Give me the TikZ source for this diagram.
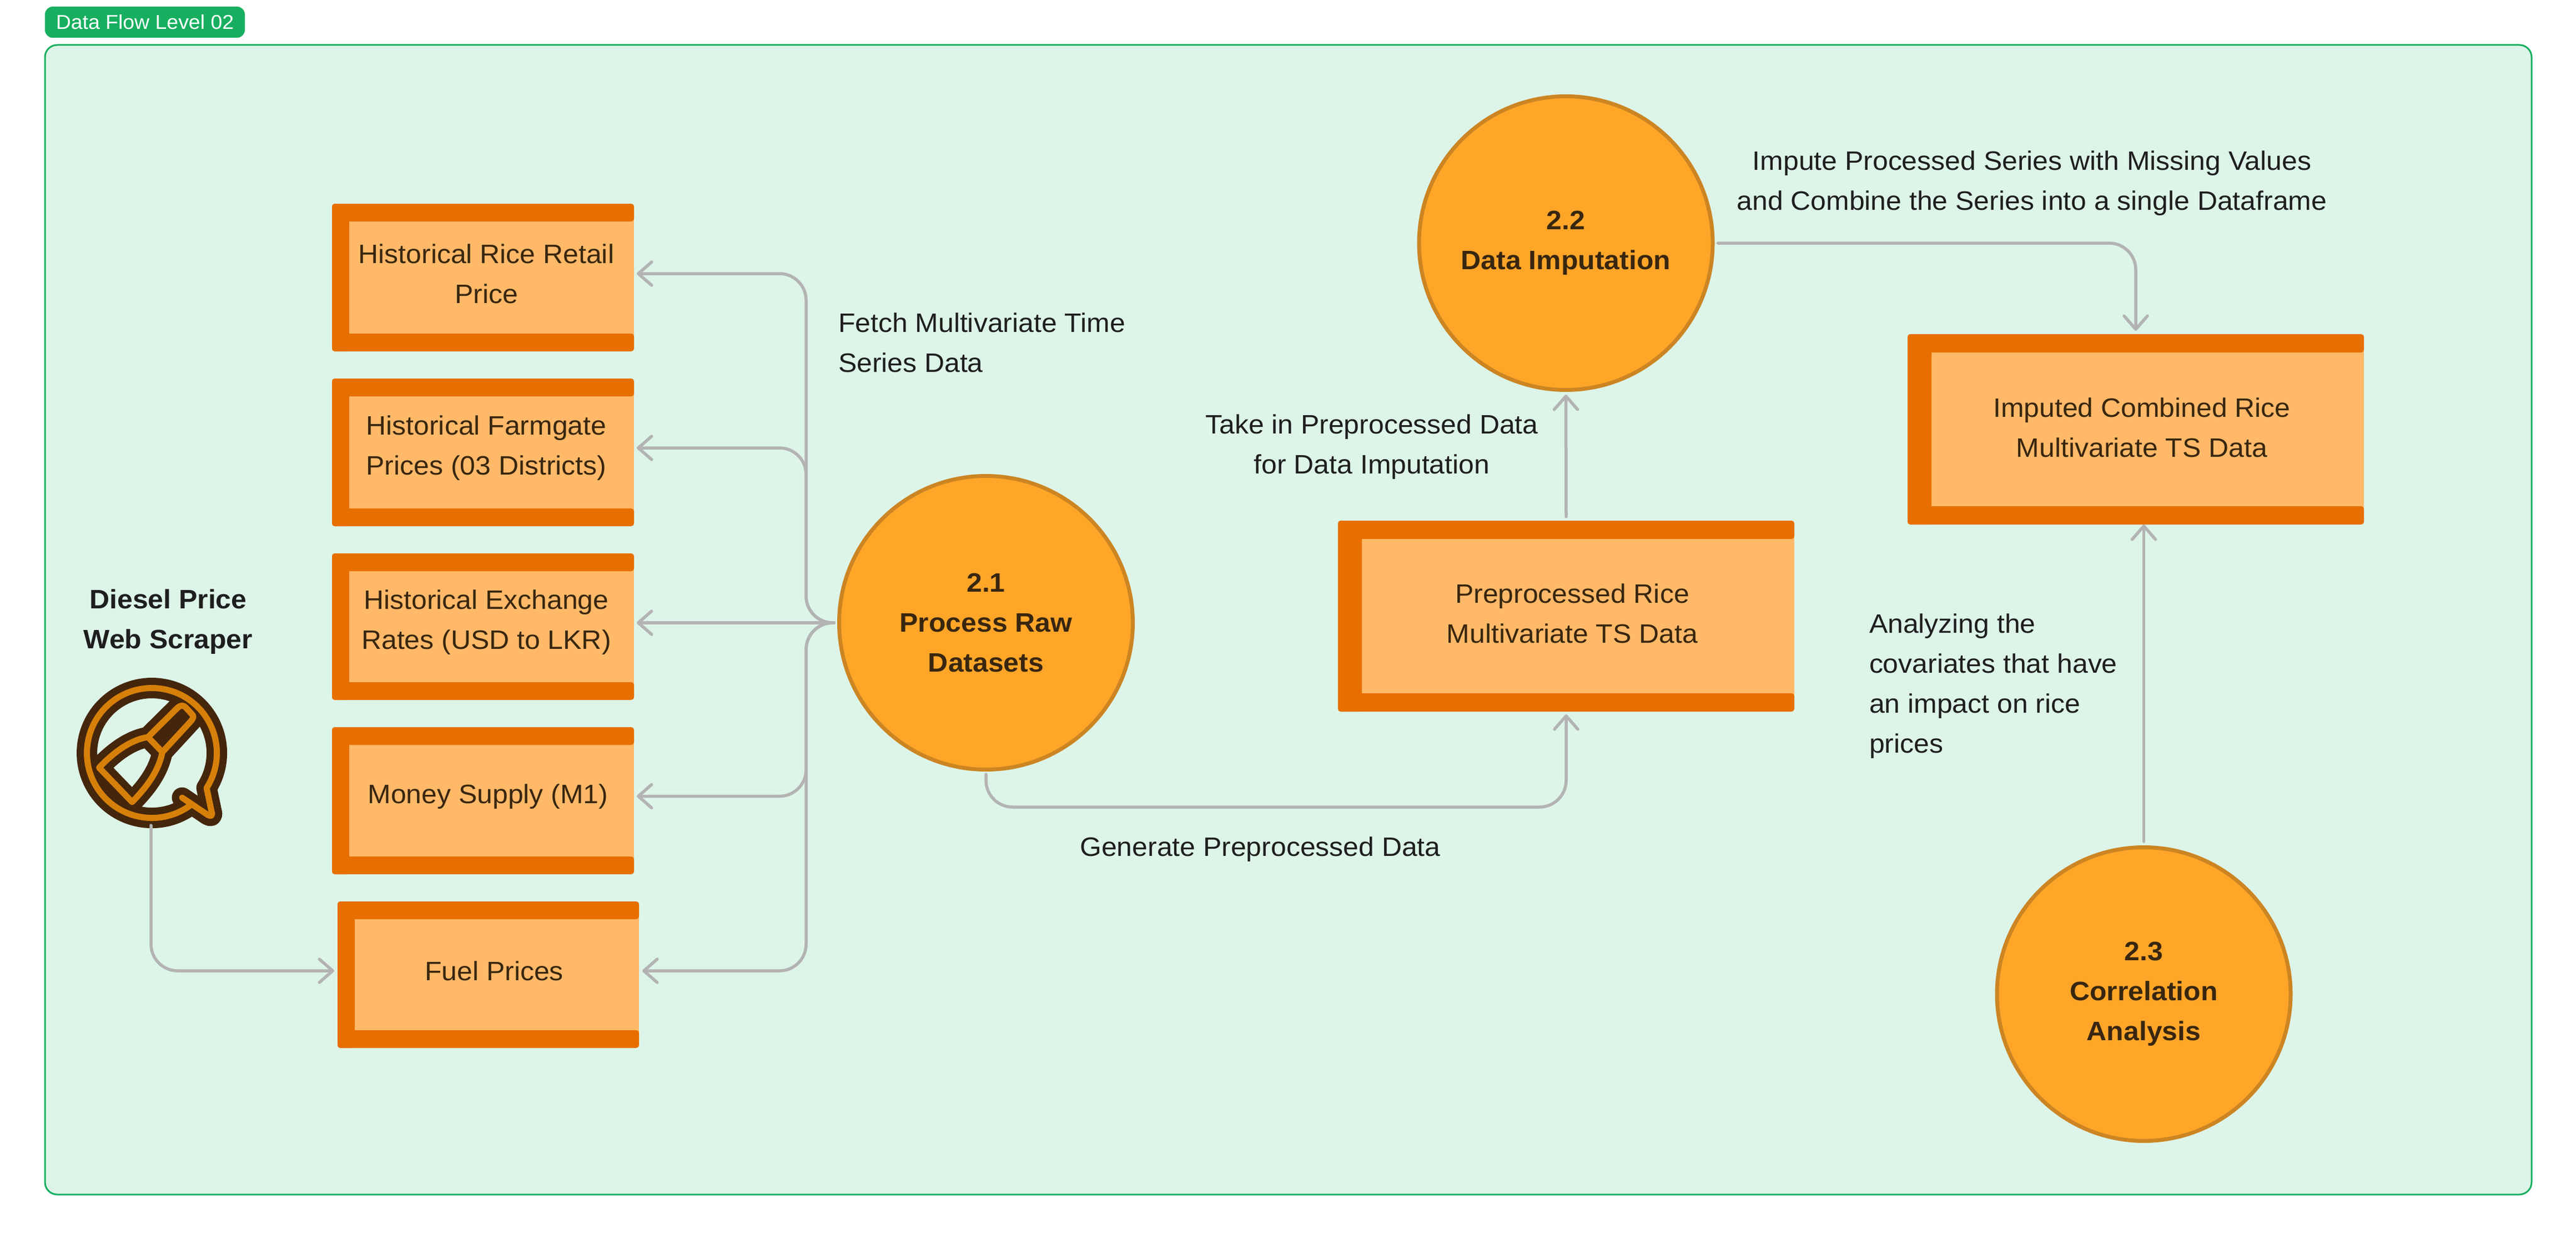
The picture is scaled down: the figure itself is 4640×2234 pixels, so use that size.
\documentclass[tikz,border=0pt]{standalone}
\usepackage{fontspec}
\setmainfont[FakeStretch=1.04]{Liberation Sans}
\usetikzlibrary{arrows.meta,calc}
\definecolor{panelfill}{HTML}{DDF4E8}
\definecolor{panelline}{HTML}{17AF5F}
\definecolor{bardark}{HTML}{E76F00}
\definecolor{boxlight}{HTML}{FFB969}
\definecolor{circfill}{HTML}{FFA629}
\definecolor{circline}{HTML}{CC8522}
\definecolor{boxtextc}{HTML}{38260F}
\definecolor{labeltext}{HTML}{1E1E1E}
\definecolor{flowgrey}{HTML}{B3B3B3}
\definecolor{icondark}{HTML}{44260C}
\definecolor{iconorange}{HTML}{D6800A}
\tikzset{
  x=1pt,y=-1pt,
  txt/.style={font=\fontsize{48pt}{72pt}\selectfont,inner sep=0pt,outer sep=0pt,align=center},
  boxtext/.style={txt,text=boxtextc},
  lbl/.style={txt,text=labeltext},
  lblleft/.style={lbl,align=left},
  shapebox/.style={rectangle,inner sep=0pt,outer sep=0pt},
  proc/.style={circle,draw=circline,fill=circfill,line width=7pt,minimum size=529pt,inner sep=0pt,
    font=\fontsize{48pt}{72pt}\selectfont\bfseries,text=boxtextc,align=center},
  flow/.style={draw=flowgrey,line width=5.5pt,line cap=round,rounded corners=48pt,
    -{Straight Barb[length=24pt,width=42pt,round]}},
  iconline/.style={draw=icondark,double=iconorange,double distance=11pt,line width=13pt,line join=round,line cap=round},
}
\newcommand{\dfbox}[7]{%
  \node[shapebox,minimum width={#4-#2},minimum height={#5-#3}] (#1) at ({(#2+#4)/2},{(#3+#5)/2}) {};
  \fill[boxlight] ([xshift=10pt,yshift=-10pt]#1.north west) rectangle ([yshift=10pt]#1.south east);
  \fill[bardark,rounded corners=5pt] (#1.north west) rectangle ([yshift=-#7 pt]#1.north east);
  \fill[bardark,rounded corners=5pt] (#1.south west) rectangle ([yshift=#7 pt]#1.south east);
  \fill[bardark,rounded corners=5pt] (#1.north west) rectangle ([xshift=#6 pt]#1.south west);
}
\begin{document}
\begin{tikzpicture}
\useasboundingbox (0,0) rectangle (4640,2234);
\fill[white] (0,0) rectangle (4640,2234);
% panel and badge
\draw[fill=panelfill,draw=panelline,line width=3pt,rounded corners=22pt] (81,81) rectangle (4560,2152);
\node[rectangle,fill=panelline,rounded corners=14pt,minimum width=360pt,minimum height=56pt,inner sep=0pt,
  text=white,font=\fontsize{36pt}{44pt}\selectfont] (badge) at (261,40) {Data Flow Level 02};
% boxes
\dfbox{b1}{598}{367}{1142}{633}{31}{32}
\dfbox{b2}{598}{682}{1142}{948}{31}{32}
\dfbox{b3}{598}{997}{1142}{1261}{31}{32}
\dfbox{b4}{598}{1310}{1142}{1575}{31}{32}
\dfbox{b5}{608}{1624}{1151}{1888}{31}{32}
\dfbox{pre}{2410}{938}{3232}{1282}{43}{33}
\dfbox{imp}{3436}{602}{4258}{945}{43}{33}
\node[boxtext] (t1) at (876,493) {Historical Rice Retail\\Price};
\node[boxtext] (t2) at (876,807) {Historical Farmgate\\Prices (03 Districts)};
\node[boxtext] (t3) at (876,1121) {Historical Exchange\\Rates (USD to LKR)};
\node[boxtext] (t4) at (879,1435) {Money Supply (M1)};
\node[boxtext] (t5) at (890,1749) {Fuel Prices};
\node[boxtext] (t6) at (2832,1105) {Preprocessed Rice\\Multivariate TS Data};
\node[boxtext] (t7) at (3858,770) {Imputed Combined Rice\\Multivariate TS Data};
% processes
\node[proc] (p1) at (1776,1122) {2.1\\Process Raw\\Datasets};
\node[proc] (p2) at (2820.5,438) {2.2\\Data Imputation};
\node[proc] (p3) at (3861.5,1791) {2.3\\Correlation\\Analysis};
% scraper
\node[txt,font=\fontsize{48pt}{72pt}\selectfont\bfseries,text=labeltext] (dl) at (303,1120) {Diesel Price\\Web Scraper};
\node[circle,minimum size=272pt,inner sep=0pt,outer sep=0pt] (icon) at (270,1351) {};
\draw[iconline] (344,1450) arc[start angle=-53,end angle=-392.6,radius=117pt]
  -- (381,1462) .. controls (384,1471) and (379,1471) .. (374,1468) -- (328,1437)
  (266.5,1328) .. controls (235,1333) and (205,1355) .. (178.5,1383)
  -- (238,1445) .. controls (262,1420) and (285,1392) .. (292.5,1355)
  -- (345,1298) .. controls (349,1292) and (349,1290) .. (346,1287)
  -- (335,1275) .. controls (330,1270) and (326,1270) .. (320,1275) -- (266.5,1328) -- (292.5,1355);
% labels
\node[lblleft] (l1) at (1510,617) [anchor=west] {Fetch Multivariate Time\\Series Data};
\node[lbl] (l2) at (2270,1530) {Generate Preprocessed Data};
\node[lbl] (l3) at (2471,805) {Take in Preprocessed Data\\for Data Imputation};
\node[lbl] (l4) at (3660,330) {Impute Processed Series with Missing Values\\and Combine the Series into a single Dataframe};
\node[lblleft] (l5) at (3367,1236) [anchor=west] {Analyzing the\\covariates that have\\an impact on rice\\prices};
% connector helpers
\coordinate (trunk) at (1452,1122);
\coordinate (genrow) at (2000,1454);
\coordinate (b1in) at ([yshift=7pt]b1.east);
\coordinate (b2in) at ([yshift=8pt]b2.east);
\coordinate (b3in) at ([yshift=7pt]b3.east);
\coordinate (b4in) at ([yshift=8pt]b4.east);
\coordinate (b5in) at ([yshift=7pt]b5.east);
\coordinate (b5w) at ([yshift=7pt]b5.west);
\coordinate (iconout) at ([xshift=2pt]icon.south);
% connectors
\draw[flow,shorten <=6pt,shorten >=5pt] (p1.west) -- (trunk) -- (trunk |- b1in) -- (b1in);
\draw[flow,shorten <=6pt,shorten >=5pt] (p1.west) -- (trunk) -- (trunk |- b2in) -- (b2in);
\draw[flow,shorten <=6pt,shorten >=5pt] (p1.west) -- (b3in);
\draw[flow,shorten <=6pt,shorten >=5pt] (p1.west) -- (trunk) -- (trunk |- b4in) -- (b4in);
\draw[flow,shorten <=6pt,shorten >=6pt] (p1.west) -- (trunk) -- (trunk |- b5in) -- (b5in);
\draw[flow,shorten >=6pt] (iconout) -- (iconout |- b5w) -- (b5w);
\draw[flow,shorten <=5pt,shorten >=5pt] (p1.south) -- (p1.south |- genrow) -- (pre.south |- genrow) -- (pre.south);
\draw[flow,shorten <=7pt,shorten >=5pt] (pre.north) -- (p2.south);
\draw[flow,shorten <=6pt,shorten >=6pt] (p2.east) -- (imp.north |- p2.east) -- (imp.north);
\draw[flow,shorten <=7pt] (p3.north) -- (p3.north |- imp.south);
\end{tikzpicture}
\end{document}
